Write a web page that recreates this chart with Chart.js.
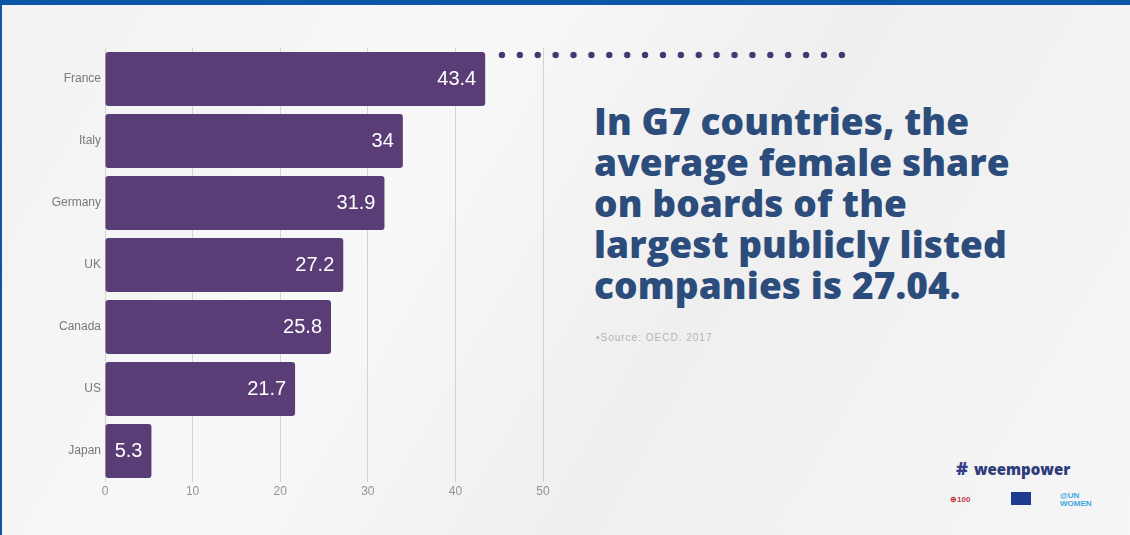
<!DOCTYPE html>
<html>
<head>
<meta charset="utf-8">
<script src="https://cdn.jsdelivr.net/npm/chart.js@4"></script>
<style>
  html, body { margin: 0; padding: 0; }
  body {
    width: 1130px; height: 535px; position: relative; overflow: hidden;
    background: linear-gradient(120deg, #f2f2f2 0%, #f8f8f8 35%, #efefef 60%, #f6f6f6 100%);
    font-family: "Liberation Sans", Arial, sans-serif;
  }
  .topbar { position: absolute; left: 0; top: 0; width: 1130px; height: 5px; background: #0c56a8; }
  .leftbar { position: absolute; left: 0; top: 0; width: 2px; height: 535px; background: #0c56a8; }
  #chartBox { position: absolute; left: 0; top: 0; width: 560px; height: 535px; }
  .dots {
    position: absolute; left: 493px; top: 51px; width: 358px; height: 8px;
    background-image: radial-gradient(circle, #4b3472 3px, transparent 3.6px);
    background-size: 17.9px 8px;
  }
  .headline {
    position: absolute; left: 594px; top: 100px; margin: 0;
    font-family: "Open Sans", sans-serif; font-weight: 800; font-size: 37px;
    line-height: 41px; color: #2c4c7c; letter-spacing: 0.1px;
  }
  .source {
    position: absolute; left: 596px; top: 332px; font-size: 10px;
    color: #b4b4b4; letter-spacing: 1px;
  }
  .logo { position: absolute; left: 956px; top: 456px; font-family: "Open Sans", sans-serif;
    font-weight: 800; font-size: 15px; color: #2f3c7a; }
  .logo span.mark { color: #3a3d8a; font-size: 18px; margin-right: 6px; }
  .small { position: absolute; font-size: 8px; font-weight: bold; }
</style>
</head>
<body>
<div class="topbar"></div>
<div class="leftbar"></div>
<div id="chartBox"><canvas id="bars"></canvas></div>
<div class="dots"></div>
<p class="headline">In G7 countries, the<br>average female share<br>on boards of the<br>largest publicly listed<br>companies is 27.04.</p>
<div class="source">•Source: OECD. 2017</div>
<div class="logo"><span class="mark">#</span>weempower</div>
<div class="small" style="left:950px; top:495px; color:#c0394a;">⊕100</div>
<div style="position:absolute; left:1011px; top:492px; width:20px; height:13px; background:#1f3b8f;"></div>
<div class="small" style="left:1060px; top:492px; color:#39a9dc; line-height:8px;">@UN<br>WOMEN</div>

<script>
const countries = ["France", "Italy", "Germany", "UK", "Canada", "US", "Japan"];
const shares = [43.4, 34, 31.9, 27.2, 25.8, 21.7, 5.3];
const xTicks = [0, 10, 20, 30, 40, 50];

// write the value inside the end of each bar
const barValues = {
  id: "barValues",
  afterDatasetsDraw(chart) {
    const ctx = chart.ctx;
    const meta = chart.getDatasetMeta(0);
    ctx.save();
    ctx.fillStyle = "#ffffff";
    ctx.font = "20px 'Liberation Sans', Arial, sans-serif";
    ctx.textAlign = "right";
    ctx.textBaseline = "middle";
    meta.data.forEach((bar, i) => {
      ctx.fillText(String(shares[i]), bar.x - 9, bar.y);
    });
    ctx.restore();
  },
};

const barsCtx = document.getElementById("bars").getContext("2d");
let sharesChart = new Chart(barsCtx, {
  type: "bar",
  data: {
    labels: countries,
    datasets: [
      {
        label: "Female share on boards",
        data: shares,
        backgroundColor: "#5a3d77",
        borderRadius: 3,
        borderSkipped: false,
        barPercentage: 0.87,
        categoryPercentage: 1,
      },
    ],
  },
  options: {
    indexAxis: "y",
    responsive: true,
    maintainAspectRatio: false,
    animation: false,
    layout: {
      padding: { top: 48, right: 17, left: 0, bottom: 0 },
    },
    plugins: {
      legend: { display: false },
      tooltip: { enabled: false },
    },
    scales: {
      x: {
        min: 0,
        max: 50,
        afterBuildTicks(scale) {
          scale.ticks = xTicks.map((v) => ({ value: v }));
        },
        afterFit(scale) {
          scale.height = 53;
        },
        border: { display: false },
        grid: {
          display: true,
          color: "#d2d2d2",
          drawTicks: false,
        },
        ticks: {
          padding: 2,
          color: "#939393",
          font: { size: 12, family: "'Liberation Sans', Arial, sans-serif" },
        },
      },
      y: {
        afterFit(scale) {
          scale.width = 105;
        },
        border: { display: false },
        grid: { display: false, drawTicks: false },
        ticks: {
          padding: 4,
          color: "#787878",
          font: { size: 12, family: "'Liberation Sans', Arial, sans-serif" },
        },
      },
    },
  },
  plugins: [barValues],
});
</script>
</body>
</html>
